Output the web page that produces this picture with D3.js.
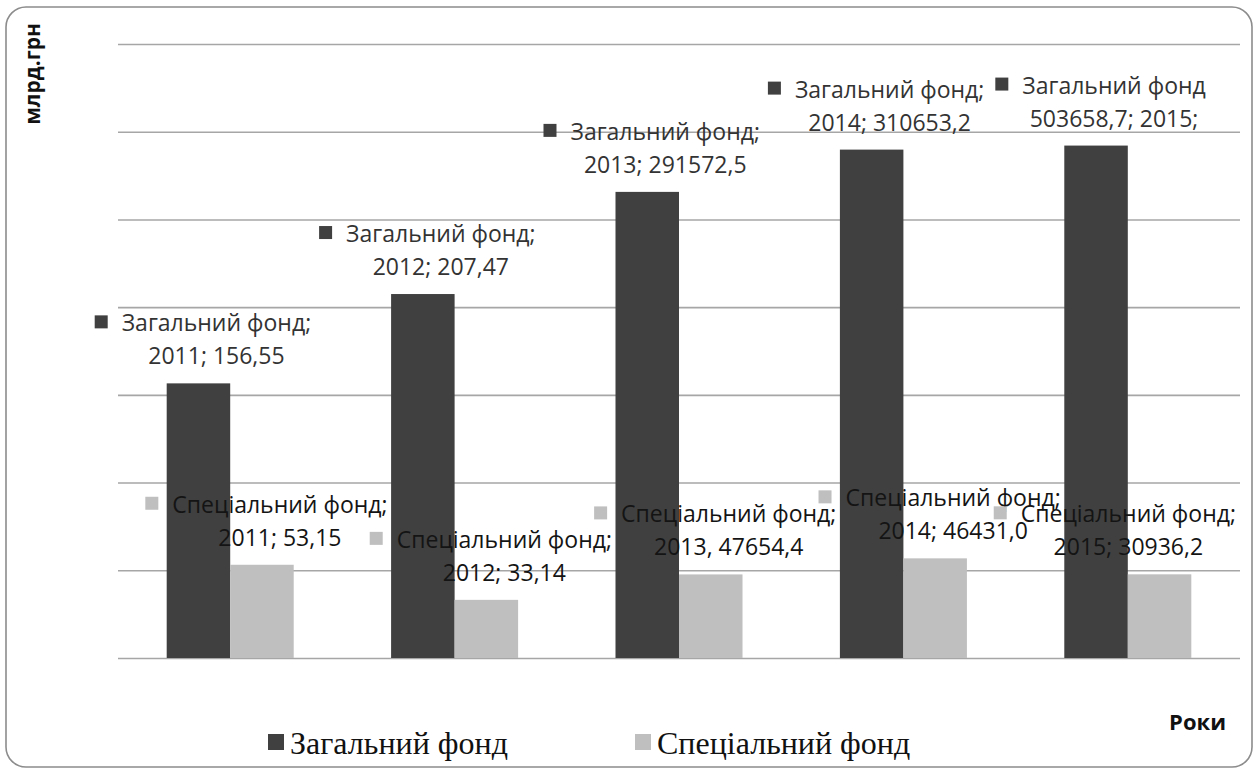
<!DOCTYPE html>
<html>
<head>
<meta charset="utf-8">
<script src="https://cdn.jsdelivr.net/npm/d3@7"></script>
<style>
  html, body { margin: 0; padding: 0; background: #ffffff; }
  svg { display: block; }
</style>
</head>
<body>
<svg id="chart" width="1258" height="773"></svg>
<script>
// Budget of Ukraine: general vs special fund, bn UAH
const years = ["2011", "2012", "2013", "2014", "2015"];
const seriesNames = ["Загальний фонд", "Спеціальний фонд"];
const generalFund = [156.55, 207.47, 265.7, 289.8, 292.1];
const specialFund = [53.15, 33.14, 47.65, 56.8, 47.7];
const yTicks = [0, 50, 100, 150, 200, 250, 300, 350];

// data-label text, two lines per bar
const generalLabels = [
  ["Загальний фонд;", "2011; 156,55"],
  ["Загальний фонд;", "2012; 207,47"],
  ["Загальний фонд;", "2013; 291572,5"],
  ["Загальний фонд;", "2014; 310653,2"],
  ["Загальний фонд", "503658,7; 2015;"]
];
const specialLabels = [
  ["Спеціальний фонд;", "2011; 53,15"],
  ["Спеціальний фонд;", "2012; 33,14"],
  ["Спеціальний фонд;", "2013, 47654,4"],
  ["Спеціальний фонд;", "2014; 46431,0"],
  ["Спеціальний фонд;", "2015; 30936,2"]
];

const colors = { "Загальний фонд": "#404040", "Спеціальний фонд": "#bfbfbf" };

const svg = d3.select("#chart");
const W = 1258, H = 773;
const plot = { left: 118, right: 1240, top: 44, bottom: 658 };

// outer frame with rounded corners
svg.append("rect")
  .attr("x", 6).attr("y", 7)
  .attr("width", W - 12).attr("height", H - 13)
  .attr("rx", 20).attr("ry", 20)
  .attr("fill", "#ffffff")
  .attr("stroke", "#8c8c8c")
  .attr("stroke-width", 1.6);

const x0 = d3.scaleBand()
  .domain(years)
  .range([plot.left, plot.right])
  .paddingInner(0.434)
  .paddingOuter(0.217);

const x1 = d3.scaleBand()
  .domain(seriesNames)
  .range([0, x0.bandwidth()]);

const y = d3.scaleLinear()
  .domain([0, 350])
  .range([plot.bottom, plot.top]);

// horizontal gridlines
const grid = svg.append("g")
  .attr("transform", `translate(${plot.left},0)`)
  .call(d3.axisLeft(y)
    .tickValues(yTicks)
    .tickSize(-(plot.right - plot.left))
    .tickFormat(""));
grid.select(".domain").remove();
grid.selectAll(".tick line")
  .attr("stroke", "#a6a6a6")
  .attr("stroke-width", 1.6);

// bars
const rows = years.map((yr, i) => ({
  year: yr,
  values: [
    { key: seriesNames[0], value: generalFund[i] },
    { key: seriesNames[1], value: specialFund[i] }
  ]
}));

svg.append("g")
  .selectAll("g")
  .data(rows)
  .join("g")
  .attr("transform", d => `translate(${x0(d.year)},0)`)
  .selectAll("rect")
  .data(d => d.values)
  .join("rect")
  .attr("x", d => x1(d.key))
  .attr("y", d => y(d.value))
  .attr("width", x1.bandwidth())
  .attr("height", d => y(0) - y(d.value))
  .attr("fill", d => colors[d.key]);

// data labels: legend key + two centred lines above each bar
const labelFont = "'Open Sans', 'Noto Sans', sans-serif";
function drawLabels(values, texts, key, textColor) {
  const layer = svg.append("g")
    .attr("font-family", labelFont)
    .attr("font-size", 23)
    .attr("fill", textColor);
  years.forEach((yr, i) => {
    const cx = x0(yr) + x1(key) + x1.bandwidth() / 2 + 18;
    const base2 = y(values[i]) - 19;
    const base1 = base2 - 33;
    const g = layer.append("g");
    const t1 = g.append("text")
      .attr("x", cx).attr("y", base1)
      .attr("text-anchor", "middle")
      .text(texts[i][0]);
    const t2 = g.append("text")
      .attr("x", cx).attr("y", base2)
      .attr("text-anchor", "middle")
      .text(texts[i][1]);
    const w1 = t1.node().getComputedTextLength();
    const w2 = t2.node().getComputedTextLength();
    g.append("rect")
      .attr("x", cx - w1 / 2 - 27)
      .attr("y", base1 - 16)
      .attr("width", 13).attr("height", 13)
      .attr("fill", colors[key]);
    const rightEdge = cx + Math.max(w1, w2) / 2;
    if (rightEdge > plot.right - 4) {
      g.attr("transform", `translate(${plot.right - 4 - rightEdge},0)`);
    }
  });
}
drawLabels(generalFund, generalLabels, seriesNames[0], "#333333");
drawLabels(specialFund, specialLabels, seriesNames[1], "#141414");

// axis titles
svg.append("text")
  .attr("transform", "translate(40,74) rotate(-90)")
  .attr("text-anchor", "middle")
  .attr("font-family", labelFont)
  .attr("font-weight", "bold")
  .attr("font-size", 21)
  .attr("fill", "#111")
  .text("млрд.грн");

svg.append("text")
  .attr("x", 1226).attr("y", 730)
  .attr("text-anchor", "end")
  .attr("font-family", labelFont)
  .attr("font-weight", "bold")
  .attr("font-size", 22)
  .attr("fill", "#111")
  .text("Роки");

// legend
const legendX = [268, 635];
const legend = svg.append("g")
  .attr("font-family", "'Liberation Serif', 'Times New Roman', serif")
  .attr("font-size", 32)
  .attr("fill", "#111");
seriesNames.forEach((name, i) => {
  legend.append("rect")
    .attr("x", legendX[i]).attr("y", 734)
    .attr("width", 16).attr("height", 16)
    .attr("fill", colors[name]);
  legend.append("text")
    .attr("x", legendX[i] + 22).attr("y", 754)
    .text(name);
});
</script>
</body>
</html>
